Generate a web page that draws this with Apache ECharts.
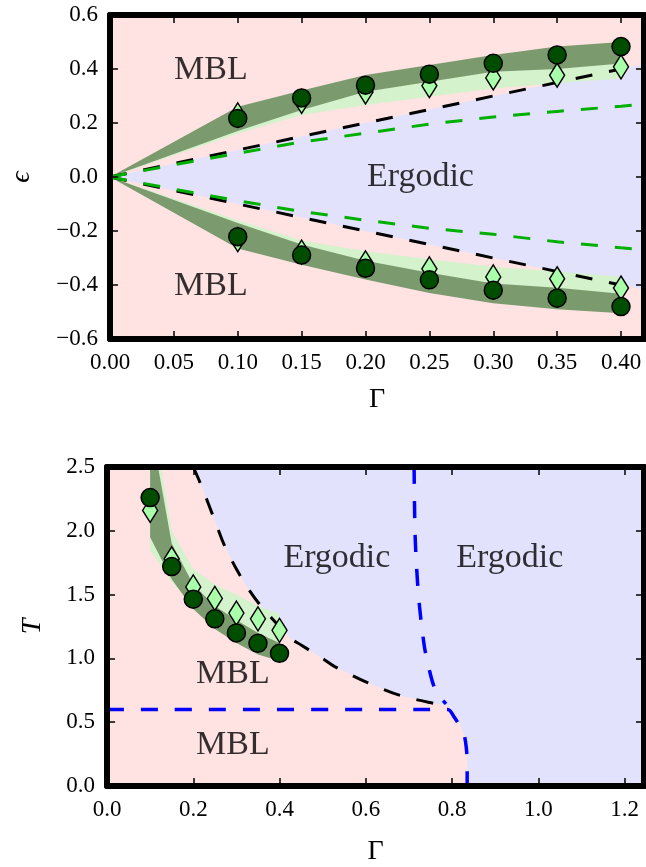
<!DOCTYPE html>
<html>
<head>
<meta charset="utf-8">
<script src="https://cdn.jsdelivr.net/npm/echarts@6/dist/echarts.min.js"></script>
<style>
html, body { margin: 0; padding: 0; background: #fff; }
#chart { width: 646px; height: 867px; }
</style>
</head>
<body>
<div id="chart"></div>
<script>
// ---------- top panel : epsilon vs Gamma ----------
var gTop = [0.1, 0.15, 0.2, 0.25, 0.3, 0.35, 0.4];
var circUp = [0.217, 0.293, 0.34, 0.381, 0.421, 0.452, 0.483];
var circDn = [-0.221, -0.289, -0.338, -0.381, -0.419, -0.449, -0.48];
var diaUp = [0.23, 0.28, 0.315, 0.338, 0.367, 0.377, 0.408];
var diaDn = [-0.232, -0.278, -0.318, -0.34, -0.37, -0.377, -0.411];

// band edges (start at the origin)
var gBand = [0, 0.1, 0.15, 0.2, 0.25, 0.3, 0.35, 0.4];
var darkUpHi = [0, 0.26, 0.32, 0.378, 0.415, 0.452, 0.483, 0.5];
var darkUpLo = [0, 0.17, 0.248, 0.316, 0.353, 0.39, 0.40, 0.42];
var lightUpHi = [0, 0.25, 0.3, 0.35, 0.39, 0.42, 0.45, 0.47];
var lightUpLo = [0, 0.16, 0.23, 0.267, 0.297, 0.328, 0.347, 0.365];
var darkDnHi = [0, -0.17, -0.25, -0.31, -0.355, -0.394, -0.41, -0.432];
var darkDnLo = [0, -0.265, -0.325, -0.38, -0.43, -0.468, -0.49, -0.505];
var lightDnHi = [0, -0.16, -0.235, -0.275, -0.305, -0.332, -0.35, -0.369];
var lightDnLo = [0, -0.25, -0.3, -0.35, -0.39, -0.43, -0.45, -0.47];

var gGreen = [0, 0.05, 0.1, 0.15, 0.2, 0.25, 0.3, 0.35, 0.4, 0.42];
var greenUp = [0, 0.045, 0.088, 0.13, 0.162, 0.196, 0.222, 0.243, 0.262, 0.27];
var greenDn = [0, -0.045, -0.088, -0.128, -0.16, -0.19, -0.212, -0.24, -0.262, -0.27];

var gBlack = [0, 0.42];
var blackUp = [0, 0.42];
var blackDn = [0, -0.42];

var topText = [['MBL', 0.079, 0.396], ['MBL', 0.079, -0.404], ['Ergodic', 0.243, 0.0]];

// ---------- bottom panel : T vs Gamma ----------
var gBot = [0.1, 0.15, 0.2, 0.25, 0.3, 0.35, 0.4];
var circT = [2.26, 1.72, 1.464, 1.31, 1.2, 1.118, 1.04];
var diaT = [2.16, 1.78, 1.56, 1.47, 1.355, 1.31, 1.22];
var darkTHi = [2.85, 1.9, 1.58, 1.41, 1.30, 1.2, 1.12];
var darkTLo = [1.95, 1.62, 1.387, 1.23, 1.12, 1.03, 0.98];
var lightTHi = [3.0, 2.0, 1.7, 1.58, 1.5, 1.41, 1.35];
var lightTLo = [1.85, 1.6, 1.42, 1.3, 1.2, 1.12, 1.08];

var blackG = [0.2, 0.218, 0.25, 0.272, 0.3, 0.326, 0.35, 0.38, 0.426, 0.45, 0.504, 0.527, 0.604, 0.681, 0.763, 0.785];
var blackT = [2.5, 2.36, 2.08, 1.887, 1.70, 1.554, 1.44, 1.323, 1.156, 1.105, 0.99, 0.938, 0.81, 0.708, 0.644, 0.632];

var lavEdgeG = [0.80, 0.813, 0.828, 0.835, 0.836, 1.25, 1.25];
var lavEdgeT = [0.60, 0.528, 0.40, 0.272, 0, 0, 2.5];

var blueAG = [0, 0.79, 0.805, 0.818, 0.828, 0.833, 0.835, 0.835];
var blueAT = [0.6, 0.6, 0.54, 0.47, 0.4, 0.3, 0.18, 0];
var blueBG = [0.712, 0.714, 0.718, 0.724, 0.736, 0.748, 0.759, 0.772, 0.786];
var blueBT = [2.5, 2.0, 1.7, 1.425, 1.09, 0.9, 0.772, 0.7, 0.644];

var botText = [['Ergodic', 0.533, 1.785], ['Ergodic', 0.934, 1.785], ['MBL', 0.292, 0.877], ['MBL', 0.292, 0.323]];

var SERIF = '"Liberation Serif", "DejaVu Serif", serif';
var PINK = '#ffe2e2', LAV = '#e2e2fc';
var DARK = '#7b9b6e', LIGHT = '#d4f2cb';

function pairs(xs, ys) {
    return xs.map(function (x, i) { return [x, ys[i]]; });
}

function polygon(ax, xs, ys, color, z) {
    return {
        type: 'custom', xAxisIndex: ax, yAxisIndex: ax, z: z, silent: true,
        data: [[xs[0], ys[0]]],
        renderItem: function (params, api) {
            var cs = params.coordSys;
            var pts = xs.map(function (x, i) { return api.coord([x, ys[i]]); });
            return {
                type: 'polygon', shape: { points: pts }, style: { fill: color },
                clipPath: { type: 'rect', shape: { x: cs.x, y: cs.y, width: cs.width, height: cs.height } }
            };
        }
    };
}

function band(ax, xs, hi, lo, color, z) {
    return polygon(ax, xs.concat(xs.slice().reverse()), hi.concat(lo.slice().reverse()), color, z);
}

function dashed(ax, xs, ys, color, width, smooth) {
    return {
        type: 'line', xAxisIndex: ax, yAxisIndex: ax, z: 4, silent: true,
        data: pairs(xs, ys), symbol: 'none', smooth: smooth || false, clip: true,
        lineStyle: { color: color, width: width, type: [17, 17] }
    };
}

function markers(ax, xs, ys, kind) {
    var dia = kind === 'diamond';
    return {
        type: 'scatter', xAxisIndex: ax, yAxisIndex: ax, z: dia ? 5 : 6, silent: true,
        data: pairs(xs, ys),
        symbol: dia ? 'diamond' : 'circle',
        symbolSize: dia ? [15, 24] : 18,
        itemStyle: { color: dia ? '#aaffaa' : '#004d00', borderColor: '#000', borderWidth: 1.5, opacity: 1 }
    };
}

function texts(ax, list) {
    return {
        type: 'scatter', xAxisIndex: ax, yAxisIndex: ax, z: 7, silent: true,
        symbolSize: 1, itemStyle: { color: 'rgba(0,0,0,0)' },
        data: list.map(function (t) { return { name: t[0], value: [t[1], t[2]] }; }),
        label: { show: true, position: 'inside', formatter: '{b}', fontSize: 34, fontFamily: SERIF,
            color: '#000', textBorderWidth: 0 }
    };
}

function fmt(d) {
    return function (v) {
        var s = Math.abs(v).toFixed(d);
        return v < -1e-9 ? '\u2212' + s : s;
    };
}

function axis(grid, pos, min, max, interval, digits, showLabel, name, nameGap, italic) {
    return {
        gridIndex: grid, type: 'value', position: pos, min: min, max: max, interval: interval, z: 10,
        axisLine: { show: true, onZero: false, lineStyle: { color: '#000', width: 6 } },
        axisTick: { show: true, inside: true, length: 8, lineStyle: { color: '#000', width: 1.5 } },
        axisLabel: { show: showLabel, margin: 12, fontSize: 23, fontFamily: SERIF, color: '#000',
            formatter: fmt(digits), showMaxLabel: pos === 'bottom' ? false : null },
        splitLine: { show: false },
        name: name, nameLocation: 'middle', nameGap: nameGap,
        nameTextStyle: { fontSize: 28, fontFamily: SERIF, color: '#000', fontStyle: italic ? 'italic' : 'normal' }
    };
}

var chart = echarts.init(document.getElementById('chart'));

var option = {
    animation: false,
    grid: [
        { left: 107, top: 15, width: 537, height: 324, show: true, backgroundColor: PINK, borderWidth: 0 },
        { left: 107, top: 467, width: 537, height: 325, show: true, backgroundColor: PINK, borderWidth: 0 }
    ],
    xAxis: [
        axis(0, 'bottom', 0, 0.418, 0.05, 2, true, '\u0393', 47, false),
        axis(0, 'top', 0, 0.418, 0.05, 2, false, '', 0, false),
        axis(1, 'bottom', 0, 1.245, 0.2, 1, true, '\u0393', 52, false),
        axis(1, 'top', 0, 1.245, 0.2, 1, false, '', 0, false)
    ],
    yAxis: [
        axis(0, 'left', -0.6, 0.6, 0.2, 1, true, '\u03f5', 74, true),
        axis(0, 'right', -0.6, 0.6, 0.2, 1, false, '', 0, false),
        axis(1, 'left', 0, 2.5, 0.5, 1, true, 'T', 60, true),
        axis(1, 'right', 0, 2.5, 0.5, 1, false, '', 0, false)
    ],
    series: [
        // top panel
        polygon(0, [0, 0.42, 0.42], [0, 0.42, -0.42], LAV, 1),
        band(0, gBand, lightUpHi, lightUpLo, LIGHT, 2),
        band(0, gBand, lightDnHi, lightDnLo, LIGHT, 2),
        band(0, gBand, darkUpHi, darkUpLo, DARK, 3),
        band(0, gBand, darkDnHi, darkDnLo, DARK, 3),
        dashed(0, gBlack, blackUp, '#000', 3),
        dashed(0, gBlack, blackDn, '#000', 3),
        dashed(0, gGreen, greenUp, '#00b000', 3),
        dashed(0, gGreen, greenDn, '#00b000', 3),
        markers(0, gTop, diaUp, 'diamond'),
        markers(0, gTop, diaDn, 'diamond'),
        markers(0, gTop, circUp, 'circle'),
        markers(0, gTop, circDn, 'circle'),
        texts(0, topText),
        // bottom panel
        polygon(2, blackG.concat(lavEdgeG), blackT.concat(lavEdgeT), LAV, 1),
        band(2, gBot, lightTHi, lightTLo, LIGHT, 2),
        band(2, gBot, darkTHi, darkTLo, DARK, 3),
        dashed(2, blackG, blackT, '#000', 3, 0.3),
        dashed(2, blueAG, blueAT, '#0000ff', 3.5, 0.3),
        dashed(2, blueBG, blueBT, '#0000ff', 3.5, 0.3),
        markers(2, gBot, diaT, 'diamond'),
        markers(2, gBot, circT, 'circle'),
        texts(2, botText)
    ]
};

chart.setOption(option);

window.onresize = function () {
    chart.resize();
};
</script>
</body>
</html>
